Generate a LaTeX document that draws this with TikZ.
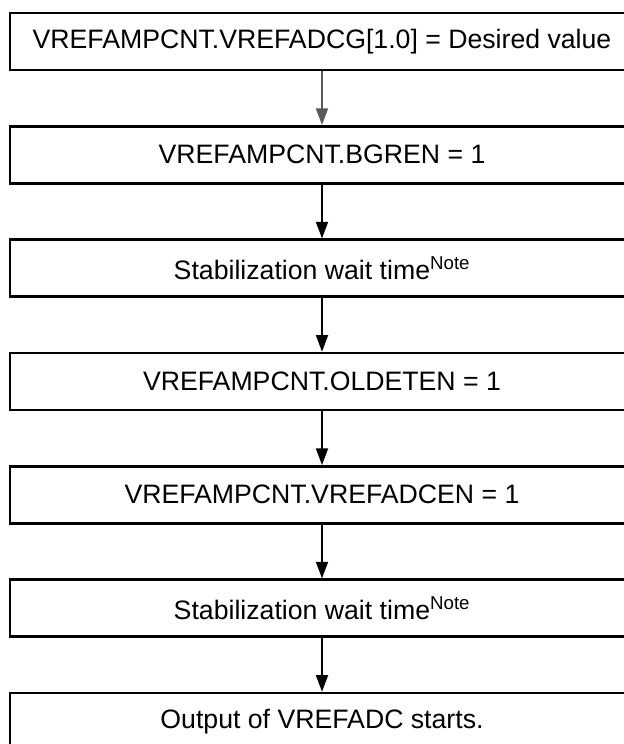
\documentclass[tikz,border=0pt]{standalone}
\usepackage{fontspec}
\setmainfont{Liberation Sans}
\usetikzlibrary{arrows.meta}
\tikzset{
  stepbox/.style={draw=black, line width=1.9pt, fill=white, minimum width=468pt, minimum height=42.75pt, inner sep=0pt, font=\fontsize{20}{24}\selectfont, anchor=center},
  flowarrow/.style={line width=1.4pt, -{Triangle[length=12.5pt,width=9pt]}},
}
\begin{document}
\begin{tikzpicture}[x=0.75pt,y=-0.75pt]
\useasboundingbox (0,0) rectangle (624,744);
\clip (0,0) rectangle (624,744);
\node[stepbox] (b1) at (322,41.5) {VREFAMPCNT.VREFADCG[1.0] = Desired value};
\node[stepbox] (b2) at (322,154.8) {VREFAMPCNT.BGREN = 1};
\node[stepbox] (b3) at (322,268.2) {Stabilization wait time\textsuperscript{Note}};
\node[stepbox] (b4) at (322,381.5) {VREFAMPCNT.OLDETEN = 1};
\node[stepbox] (b5) at (322,494.8) {VREFAMPCNT.VREFADCEN = 1};
\node[stepbox] (b6) at (322,608.2) {Stabilization wait time\textsuperscript{Note}};
\node[stepbox] (b7) at (322,721.5) {Output of VREFADC starts.};
\draw[flowarrow, draw=black!65, fill=black!65] (b1.south) -- (b2.north);
\draw[flowarrow] (b2.south) -- (b3.north);
\draw[flowarrow] (b3.south) -- (b4.north);
\draw[flowarrow] (b4.south) -- (b5.north);
\draw[flowarrow] (b5.south) -- (b6.north);
\draw[flowarrow] (b6.south) -- (b7.north);
\end{tikzpicture}
\end{document}
